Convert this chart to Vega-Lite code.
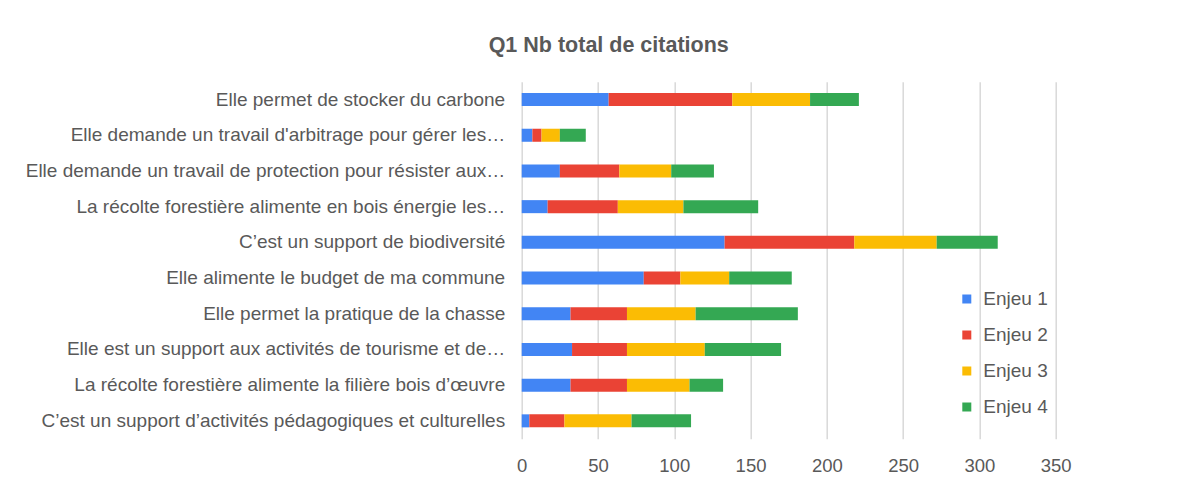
{
  "$schema": "https://vega.github.io/schema/vega-lite/v6.json",
  "autosize": "none",
  "width": 534,
  "height": 357,
  "padding": {"left": 521.7, "top": 81.7, "right": 147.3, "bottom": 38.3},
  "background": "white",
  "title": {
    "text": "Q1 Nb total de citations",
    "font": "Liberation Sans",
    "fontSize": 21.5,
    "fontWeight": "bold",
    "color": "#595959",
    "anchor": "middle",
    "baseline": "alphabetic",
    "offset": 8,
    "dx": -180
  },
  "config": {
    "font": "Liberation Sans",
    "view": {"stroke": null}
  },
  "data": {
    "values": [
      {"label": "Elle permet de stocker du carbone", "enjeu": "Enjeu 1", "value": 57},
      {"label": "Elle permet de stocker du carbone", "enjeu": "Enjeu 2", "value": 81},
      {"label": "Elle permet de stocker du carbone", "enjeu": "Enjeu 3", "value": 51},
      {"label": "Elle permet de stocker du carbone", "enjeu": "Enjeu 4", "value": 32},
      {"label": "Elle demande un travail d'arbitrage pour gérer les…", "enjeu": "Enjeu 1", "value": 7},
      {"label": "Elle demande un travail d'arbitrage pour gérer les…", "enjeu": "Enjeu 2", "value": 6},
      {"label": "Elle demande un travail d'arbitrage pour gérer les…", "enjeu": "Enjeu 3", "value": 12},
      {"label": "Elle demande un travail d'arbitrage pour gérer les…", "enjeu": "Enjeu 4", "value": 17},
      {"label": "Elle demande un travail de protection pour résister aux…", "enjeu": "Enjeu 1", "value": 25},
      {"label": "Elle demande un travail de protection pour résister aux…", "enjeu": "Enjeu 2", "value": 39},
      {"label": "Elle demande un travail de protection pour résister aux…", "enjeu": "Enjeu 3", "value": 34},
      {"label": "Elle demande un travail de protection pour résister aux…", "enjeu": "Enjeu 4", "value": 28},
      {"label": "La récolte forestière alimente en bois énergie les…", "enjeu": "Enjeu 1", "value": 17},
      {"label": "La récolte forestière alimente en bois énergie les…", "enjeu": "Enjeu 2", "value": 46},
      {"label": "La récolte forestière alimente en bois énergie les…", "enjeu": "Enjeu 3", "value": 43},
      {"label": "La récolte forestière alimente en bois énergie les…", "enjeu": "Enjeu 4", "value": 49},
      {"label": "C’est un support de biodiversité", "enjeu": "Enjeu 1", "value": 133},
      {"label": "C’est un support de biodiversité", "enjeu": "Enjeu 2", "value": 85},
      {"label": "C’est un support de biodiversité", "enjeu": "Enjeu 3", "value": 54},
      {"label": "C’est un support de biodiversité", "enjeu": "Enjeu 4", "value": 40},
      {"label": "Elle alimente le budget de ma commune", "enjeu": "Enjeu 1", "value": 80},
      {"label": "Elle alimente le budget de ma commune", "enjeu": "Enjeu 2", "value": 24},
      {"label": "Elle alimente le budget de ma commune", "enjeu": "Enjeu 3", "value": 32},
      {"label": "Elle alimente le budget de ma commune", "enjeu": "Enjeu 4", "value": 41},
      {"label": "Elle permet la pratique de la chasse", "enjeu": "Enjeu 1", "value": 32},
      {"label": "Elle permet la pratique de la chasse", "enjeu": "Enjeu 2", "value": 37},
      {"label": "Elle permet la pratique de la chasse", "enjeu": "Enjeu 3", "value": 45},
      {"label": "Elle permet la pratique de la chasse", "enjeu": "Enjeu 4", "value": 67},
      {"label": "Elle est un support aux activités de tourisme et de…", "enjeu": "Enjeu 1", "value": 33},
      {"label": "Elle est un support aux activités de tourisme et de…", "enjeu": "Enjeu 2", "value": 36},
      {"label": "Elle est un support aux activités de tourisme et de…", "enjeu": "Enjeu 3", "value": 51},
      {"label": "Elle est un support aux activités de tourisme et de…", "enjeu": "Enjeu 4", "value": 50},
      {"label": "La récolte forestière alimente la filière bois d’œuvre", "enjeu": "Enjeu 1", "value": 32},
      {"label": "La récolte forestière alimente la filière bois d’œuvre", "enjeu": "Enjeu 2", "value": 37},
      {"label": "La récolte forestière alimente la filière bois d’œuvre", "enjeu": "Enjeu 3", "value": 41},
      {"label": "La récolte forestière alimente la filière bois d’œuvre", "enjeu": "Enjeu 4", "value": 22},
      {"label": "C’est un support d’activités pédagogiques et culturelles", "enjeu": "Enjeu 1", "value": 5},
      {"label": "C’est un support d’activités pédagogiques et culturelles", "enjeu": "Enjeu 2", "value": 23},
      {"label": "C’est un support d’activités pédagogiques et culturelles", "enjeu": "Enjeu 3", "value": 44},
      {"label": "C’est un support d’activités pédagogiques et culturelles", "enjeu": "Enjeu 4", "value": 39}
    ]
  },
  "mark": {"type": "bar"},
  "encoding": {
    "y": {
      "field": "label",
      "type": "nominal",
      "sort": null,
      "scale": {"paddingInner": 0.635, "paddingOuter": 0.3175},
      "axis": {
        "title": null,
        "domain": false,
        "ticks": false,
        "grid": false,
        "labelFont": "Liberation Sans",
        "labelFontSize": 19,
        "labelColor": "#595959",
        "labelPadding": 17,
        "labelLimit": 600
      }
    },
    "x": {
      "field": "value",
      "type": "quantitative",
      "stack": "zero",
      "scale": {"domain": [0, 350], "nice": false},
      "axis": {
        "title": null,
        "values": [0, 50, 100, 150, 200, 250, 300, 350],
        "domain": false,
        "ticks": false,
        "grid": true,
        "gridColor": "#d9d9d9",
        "gridWidth": 1.5,
        "labelFlush": false,
        "labelOverlap": false,
        "labelFont": "Liberation Sans",
        "labelFontSize": 18.5,
        "labelColor": "#595959",
        "labelPadding": 18
      }
    },
    "color": {
      "field": "enjeu",
      "type": "nominal",
      "scale": {
        "domain": ["Enjeu 1", "Enjeu 2", "Enjeu 3", "Enjeu 4"],
        "range": ["#4285F4", "#EA4335", "#FBBC04", "#34A853"]
      },
      "legend": {
        "title": null,
        "orient": "none",
        "legendX": 435.6,
        "legendY": 207.8,
        "padding": 0,
        "symbolType": "square",
        "symbolSize": 81,
        "symbolStrokeWidth": 0,
        "labelFont": "Liberation Sans",
        "labelFontSize": 19,
        "labelColor": "#595959",
        "labelOffset": 7,
        "rowPadding": 16
      }
    },
    "order": {"field": "enjeu", "type": "ordinal", "sort": "ascending"}
  }
}
